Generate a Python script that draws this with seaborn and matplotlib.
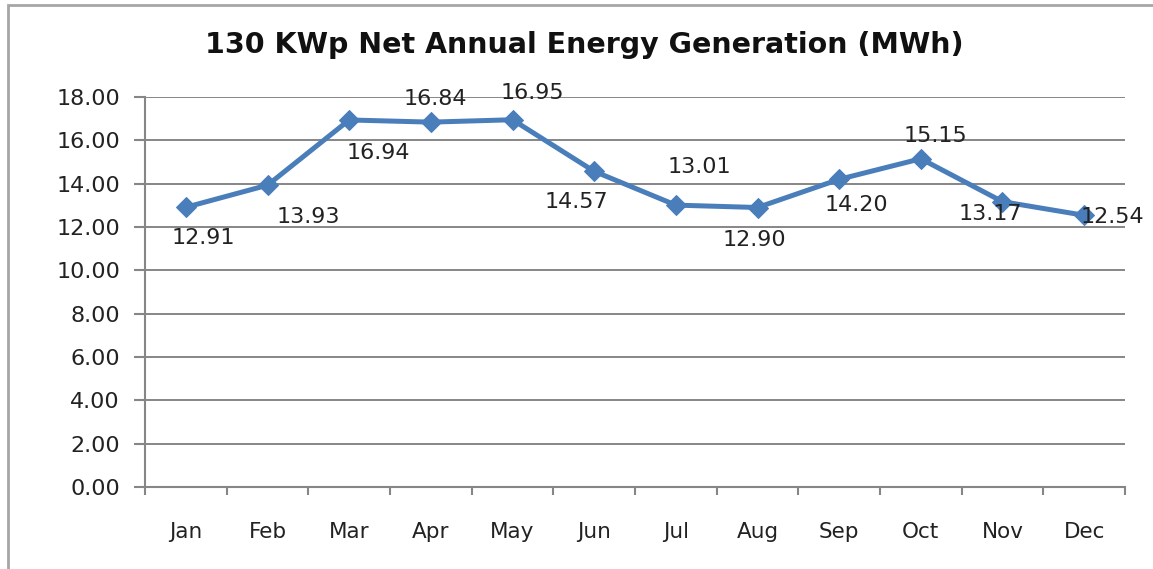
import numpy as np
import pandas as pd
import seaborn as sns
import matplotlib.pyplot as plt
from matplotlib.patches import Rectangle

months = ['Jan', 'Feb', 'Mar', 'Apr', 'May', 'Jun', 'Jul', 'Aug', 'Sep', 'Oct', 'Nov', 'Dec']
energy_mwh = [12.91, 13.93, 16.94, 16.84, 16.95, 14.57, 13.01, 12.90, 14.20, 15.15, 13.17, 12.54]

# label offsets in pixels (dx, dy), dy positive = up
label_offsets = [(17, -31), (41, -32), (29, -33), (4, 23), (20, 27), (-18, -31),
                 (24, 38), (-3, -33), (17, -26), (15, 23), (-12, -12), (28, -2)]

sns.set_style('white')
plt.rcParams['font.family'] = ['DejaVu Sans']

df = pd.DataFrame({'month': months, 'energy': energy_mwh})
df['pos'] = np.arange(len(months))

fig = plt.figure(figsize=(11.53, 5.69), dpi=100)
ax = fig.add_axes([145 / 1153, 1 - 487 / 569, 980 / 1153, 390 / 569])

line_color = '#4A7EBB'
grid_color = '#868686'
text_color = '#222222'

sns.lineplot(data=df, x='pos', y='energy', ax=ax, color=line_color, linewidth=3.6,
             marker='D', markersize=10, markeredgecolor=line_color, sort=False, zorder=3)

ax.set_xlim(-0.5, len(months) - 0.5)
ax.set_ylim(0, 18)
yt = np.arange(0, 18.1, 2)
ax.set_yticks(yt)
ax.set_yticklabels([f'{v:.2f}' for v in yt])
ax.set_xticks(df['pos'])
ax.set_xticklabels(months)
ax.set_xticks(np.arange(-0.5, len(months), 1), minor=True)
ax.tick_params(axis='x', which='major', bottom=False, pad=22, labelsize=15.5, labelcolor=text_color)
ax.tick_params(axis='x', which='minor', bottom=True, length=6, width=1.5, color=grid_color,
               direction='out')
ax.tick_params(axis='y', left=True, length=8, width=1.5, color=grid_color, direction='out', pad=10,
               labelsize=16, labelcolor=text_color)
ax.set_xlabel('')
ax.set_ylabel('')

ax.grid(axis='y', color=grid_color, linewidth=1.4)
ax.set_axisbelow(True)
for side in ['top', 'right']:
    ax.spines[side].set_visible(False)
for side in ['left', 'bottom']:
    ax.spines[side].set_color(grid_color)
    ax.spines[side].set_linewidth(1.5)

for (x, y), (dx, dy) in zip(zip(df['pos'], df['energy']), label_offsets):
    ax.annotate(f'{y:.2f}', (x, y), xytext=(dx * 0.72, dy * 0.72), textcoords='offset points',
                ha='center', va='center', fontsize=16, color=text_color, zorder=4)

fig.text(584 / 1153, 1 - 45 / 569, '130 KWp Net Annual Energy Generation (MWh)',
         ha='center', va='center', fontsize=20.5, fontweight='bold', color='#111111')

fig.patches.append(Rectangle((8 / 1153, -0.1), 1.2, 1 - 5 / 569 + 0.1, transform=fig.transFigure,
                             fill=False, edgecolor='#A6A6A6', linewidth=2))

fig.savefig('out.png', dpi=100)
